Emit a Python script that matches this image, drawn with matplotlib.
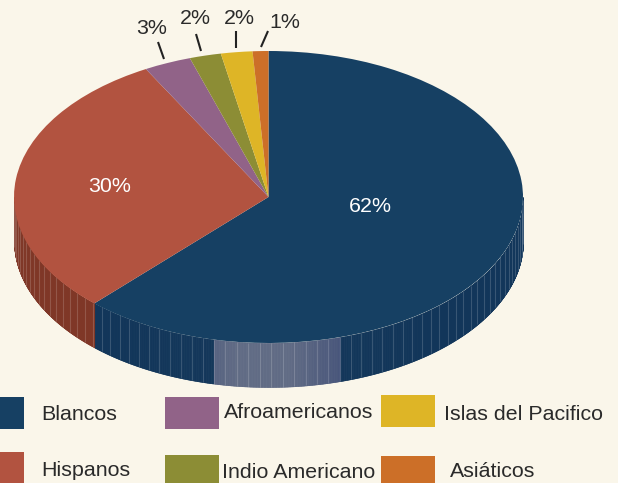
import numpy as np
import matplotlib
matplotlib.use("Agg")
import matplotlib.pyplot as plt
from matplotlib.patches import Rectangle

categories = ["Blancos", "Hispanos", "Afroamericanos", "Indio Americano", "Islas del Pacifico", "Asiáticos"]
values = [62, 30, 3, 2, 2, 1]
pct_labels = ["62%", "30%", "3%", "2%", "2%", "1%"]
colors = ["#164063", "#B25340", "#916388", "#8C8D35", "#DEB526", "#CC6F28"]
wall_colors = {"Blancos": "#12365A", "Hispanos": "#7F3727"}

BG = "#FAF6EA"
W, H = 618, 483
CX, CY, RX, RY, DEPTH = 268.5, 197.0, 254.5, 146.0, 44.0
plt.rcParams["font.family"] = ["Liberation Sans", "DejaVu Sans"]
TXT = "#2a2a2a"

fig = plt.figure(figsize=(W / 100, H / 100), dpi=100, facecolor=BG)
px = fig.add_axes([0, 0, 1, 1])
px.set_xlim(0, W); px.set_ylim(H, 0); px.axis("off")

cum = np.cumsum(values) / sum(values) * 360.0


def pt(a):
    a = np.radians(a)
    return CX + RX * np.sin(a), CY - RY * np.cos(a)


def wall_color(x, base):
    if base == "Blancos" and 213 <= x <= 340:
        t = 1 - abs(x - 262) / 80
        c0 = np.array(matplotlib.colors.to_rgb("#46547A"))
        c1 = np.array(matplotlib.colors.to_rgb("#606B85"))
        return tuple(c0 + (c1 - c0) * np.clip(t * 1.5, 0, 1))
    return wall_colors[base]


spans = [(90.0, cum[0], "Blancos"), (cum[0], 270.0, "Hispanos")]
for a0, a1, name in spans:
    aa = np.linspace(a0, a1, int((a1 - a0) * 6) + 2)
    for s, e in zip(aa[:-1], aa[1:]):
        xs, ys = pt(np.array([s, e]))
        px.fill_between(xs, ys, ys + DEPTH, color=wall_color(xs.mean(), name), lw=0.4, zorder=1)
    ribs = np.arange(np.ceil(a0 / 2.6) * 2.6, a1, 2.6)
    for r in ribs:
        x, y = pt(r)
        px.plot([x, x], [y, y + DEPTH], color="#FFFFFF", alpha=0.16, lw=0.8, zorder=2,
                solid_capstyle="butt")

pie_ax = fig.add_axes([(CX - RX) / W, 1 - (CY + RY) / H, 2 * RX / W, 2 * RY / H])
pie_ax.pie(values, colors=colors, startangle=90, counterclock=False, radius=1.0,
           wedgeprops=dict(linewidth=0))
pie_ax.set_aspect("auto")
pie_ax.set_xlim(-1, 1); pie_ax.set_ylim(-1, 1)
pie_ax.patch.set_alpha(0)

px2 = fig.add_axes([0, 0, 1, 1], facecolor="none")
px2.set_xlim(0, W); px2.set_ylim(H, 0); px2.axis("off")
label_pos = [(370, 207), (110, 187), (152, 29), (195, 19), (239, 18), (285, 22)]
label_col = ["white", "white", TXT, TXT, TXT, TXT]
for t, (x, y), c in zip(pct_labels, label_pos, label_col):
    px2.text(x, y, t, ha="center", va="center", fontsize=15.4, color=c)

leaders = [((158, 42), (164, 59)), ((196, 34), (201, 51)), ((236, 31), (236, 48)), ((268, 31), (261, 47))]
for (x0, y0), (x1, y1) in leaders:
    px2.plot([x0, x1], [y0, y1], color="#222222", lw=1.5, solid_capstyle="butt")

swatches = [(-1, 397, 25, 32), (-1, 452, 25, 31), (165, 397, 54, 32), (165, 455, 54, 28),
            (381, 395, 54, 32), (381, 456, 54, 27)]
text_pos = [(41, 415), (41, 470.5), (224, 413), (222, 472), (444, 415), (450, 471.5)]
for cat, col, (x, y, w, h), (tx, ty) in zip(categories, colors, swatches, text_pos):
    px2.add_patch(Rectangle((x, y), w, h, facecolor=col, edgecolor="none"))
    px2.text(tx, ty, cat, ha="left", va="center", fontsize=15.4, color=TXT)

fig.savefig("out.png", dpi=100, facecolor=BG)
